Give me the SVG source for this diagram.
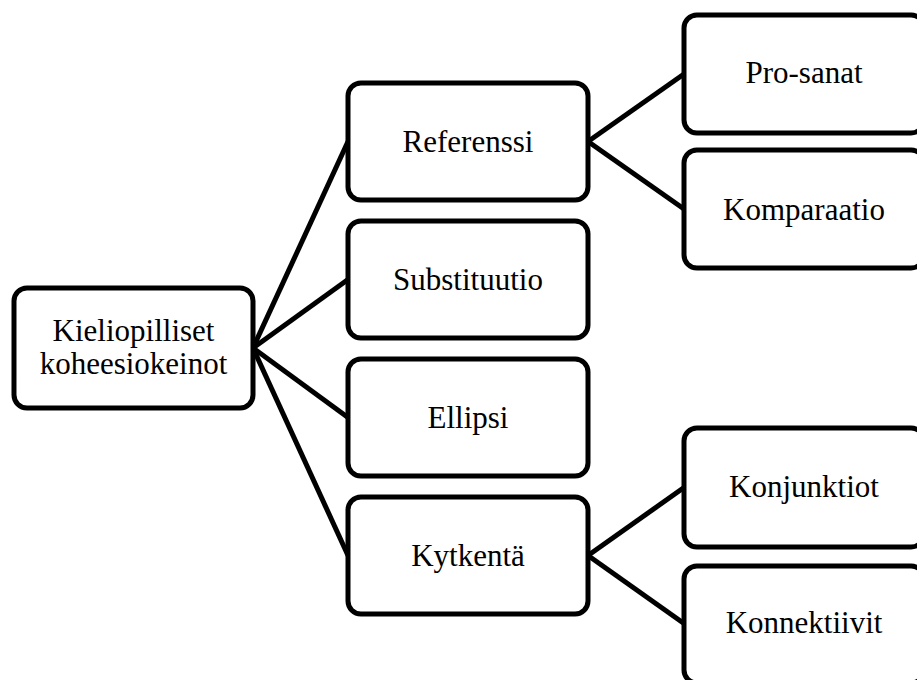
<svg xmlns="http://www.w3.org/2000/svg" width="917" height="680" viewBox="0 0 917 680">
<style>
.box{fill:#fff;stroke:#000;stroke-width:5}
.lbl{font-family:'Liberation Serif','Times New Roman',serif;font-size:31px;fill:#000;text-anchor:middle}
.conn line{stroke:#000;stroke-width:5}
</style>
<rect width="917" height="680" fill="#fff"/>
<g id="connectors" class="conn">
<line x1="253" y1="348" x2="348" y2="141.5"/>
<line x1="253" y1="348" x2="348" y2="279.5"/>
<line x1="253" y1="348" x2="348" y2="417.5"/>
<line x1="253" y1="348" x2="348" y2="555.5"/>
<line x1="588" y1="141.5" x2="684" y2="74"/>
<line x1="588" y1="141.5" x2="684" y2="209"/>
<line x1="588" y1="555.5" x2="684" y2="487.5"/>
<line x1="588" y1="555.5" x2="684" y2="623.5"/>
</g>
<g id="root"><rect class="box" x="14" y="288" width="239" height="120" rx="13"/><text class="lbl" x="133.5" y="341">Kieliopilliset</text><text class="lbl" x="133.5" y="374">koheesiokeinot</text></g>
<g id="referenssi"><rect class="box" x="348" y="83" width="240" height="117" rx="13"/><text class="lbl" x="468" y="152">Referenssi</text></g>
<g id="substituutio"><rect class="box" x="348" y="221" width="240" height="117" rx="13"/><text class="lbl" x="468" y="290">Substituutio</text></g>
<g id="ellipsi"><rect class="box" x="348" y="359" width="240" height="117" rx="13"/><text class="lbl" x="468" y="428">Ellipsi</text></g>
<g id="kytkenta"><rect class="box" x="348" y="497" width="240" height="117" rx="13"/><text class="lbl" x="468" y="566">Kytkentä</text></g>
<g id="prosanat"><rect class="box" x="684" y="15" width="240" height="118" rx="13"/><text class="lbl" x="804" y="83">Pro-sanat</text></g>
<g id="komparaatio"><rect class="box" x="684" y="150" width="240" height="118" rx="13"/><text class="lbl" x="804" y="220">Komparaatio</text></g>
<g id="konjunktiot"><rect class="box" x="684" y="428" width="240" height="119" rx="13"/><text class="lbl" x="804" y="497">Konjunktiot</text></g>
<g id="konnektiivit"><rect class="box" x="684" y="566" width="240" height="117" rx="13"/><text class="lbl" x="804" y="633">Konnektiivit</text></g>
</svg>
